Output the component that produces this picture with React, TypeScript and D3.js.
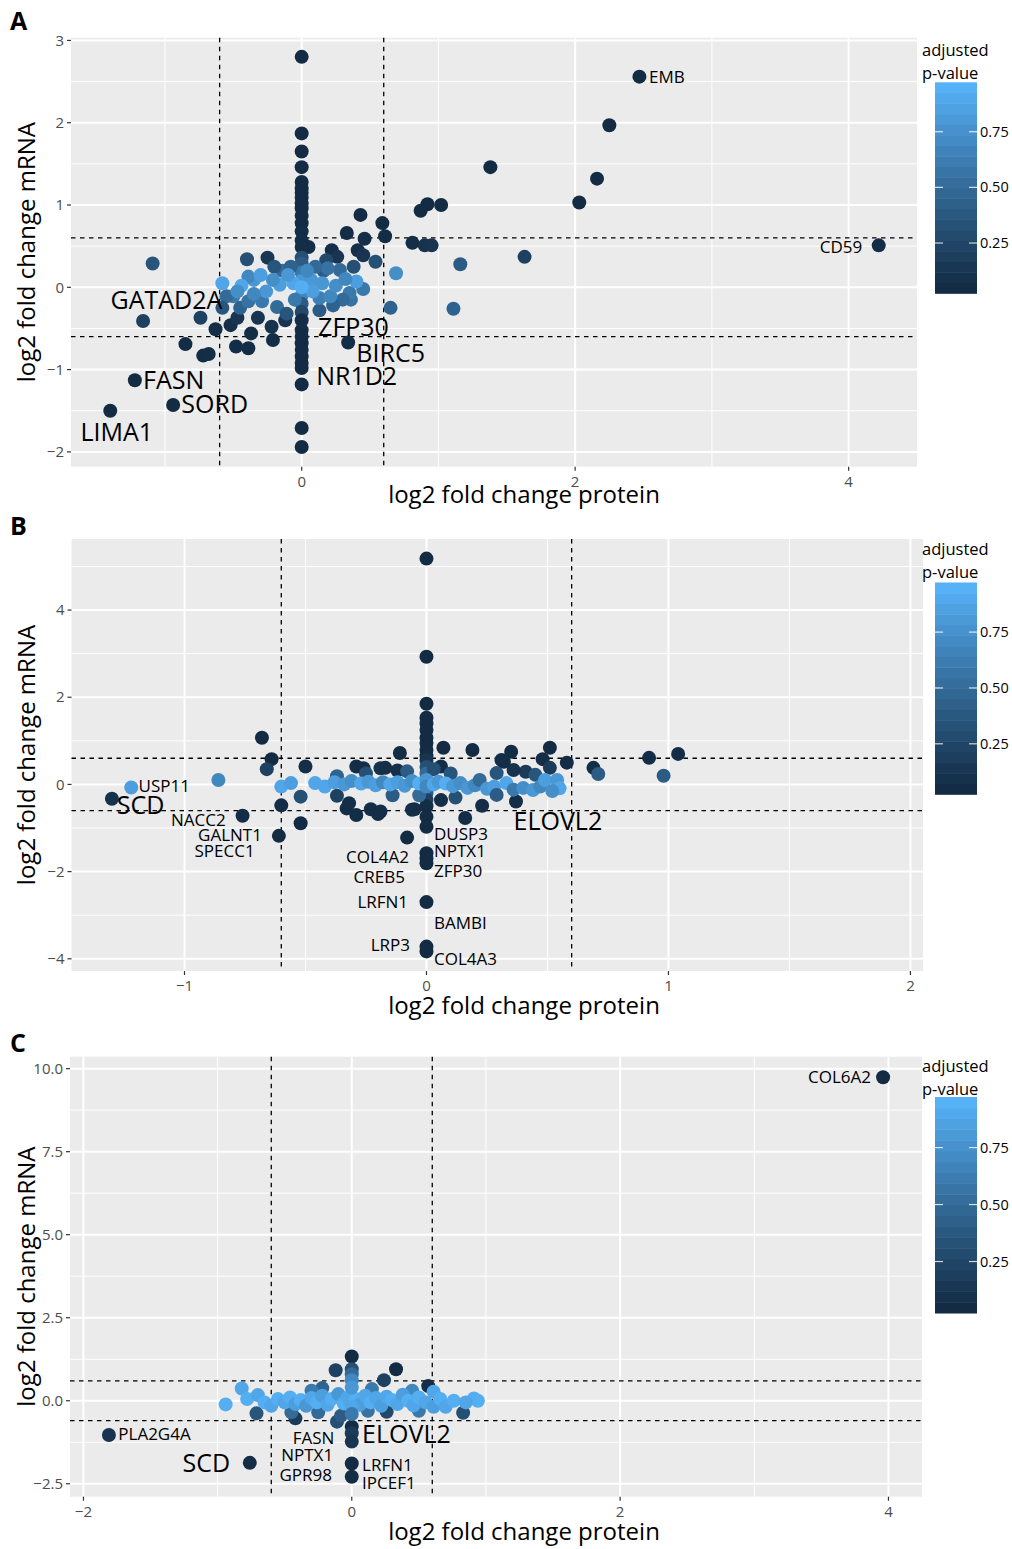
import React, { useEffect } from 'react';
import * as d3 from 'd3';

// [log2FC protein, log2FC mRNA, adjusted p-value]
type Pt = [number, number, number];
// [gene, x, y] in data units (text centre-left / centre-right)
type Lab = [string, number, number];

const pointsA: Pt[] = [
  [0, 2.80, 0.02], [2.47, 2.56, 0.02], [2.25, 1.97, 0.02], [2.16, 1.32, 0.03], [1.38, 1.46, 0.02],
  [2.03, 1.03, 0.03], [1.02, 1.00, 0.03], [0.92, 1.01, 0.03], [0.87, 0.93, 0.03], [1.63, 0.37, 0.2],
  [1.16, 0.28, 0.4], [1.11, -0.26, 0.45], [0.69, 0.17, 0.75], [0.65, -0.25, 0.45], [0.81, 0.54, 0.05],
  [0.90, 0.51, 0.08], [0.95, 0.51, 0.1], [4.22, 0.51, 0.04], [0.59, 0.78, 0.03], [0.61, 0.62, 0.04],
  [0.43, 0.88, 0.03], [0.33, 0.66, 0.04], [0.46, 0.59, 0.05], [0.41, 0.45, 0.06], [0.22, 0.45, 0.05],
  [0.26, 0.37, 0.1], [0.05, 0.49, 0.05], [0.45, 0.39, 0.1], [0.54, 0.31, 0.3], [0.18, 0.33, 0.25],
  [0, 1.87, 0.03], [0, 1.65, 0.03], [0, 1.46, 0.03], [0, 1.28, 0.03], [0, 1.20, 0.03], [0, 1.15, 0.03],
  [0, 1.09, 0.03], [0, 1.02, 0.03], [0, 0.96, 0.03], [0, 0.87, 0.03], [0, 0.78, 0.03], [0, 0.68, 0.04],
  [0, 0.57, 0.04], [0, 0.49, 0.05], [0, 0.36, 0.3], [0, 0.29, 0.4], [0, 0.18, 0.6], [0, 0.08, 0.8],
  [0, -0.10, 0.7], [0, -0.20, 0.4], [0, -0.30, 0.25], [0, -0.40, 0.05], [0, -0.52, 0.04],
  [0, -0.60, 0.03], [0, -0.68, 0.03], [0, -0.76, 0.03], [0, -0.84, 0.03], [0, -0.92, 0.03],
  [0, -0.98, 0.03], [0, -1.18, 0.03], [0, -1.71, 0.03], [0, -1.94, 0.03],
  [-1.09, 0.29, 0.35], [-1.16, -0.41, 0.2], [-1.22, -1.13, 0.03], [-1.40, -1.50, 0.03], [-0.94, -1.43, 0.03],
  [-0.85, -0.69, 0.04], [-0.72, -0.83, 0.04], [-0.68, -0.81, 0.05], [-0.74, -0.37, 0.2], [-0.63, -0.51, 0.05],
  [-0.40, 0.34, 0.3], [-0.25, 0.36, 0.12], [-0.48, -0.72, 0.04], [-0.39, -0.74, 0.04],
  [-0.37, -0.56, 0.05], [-0.52, -0.46, 0.06], [-0.47, -0.37, 0.1], [-0.32, -0.37, 0.1], [-0.22, -0.48, 0.08],
  [-0.21, -0.64, 0.05], [-0.12, -0.40, 0.1], [0.34, -0.67, 0.04],
  [-0.14, 0.20, 0.5], [0.16, 0.20, 0.4], [0.38, 0.25, 0.3], [-0.08, 0.25, 0.45], [-0.20, 0.25, 0.35],
  [0.36, -0.15, 0.55], [0.45, -0.02, 0.6],
  [0.35, -0.07, 0.6], [0.30, -0.15, 0.5], [0.23, -0.22, 0.45], [0.13, -0.28, 0.4],
  [0.28, 0.21, 0.5], [0.19, 0.23, 0.55], [0.10, 0.25, 0.5], [-0.50, -0.11, 0.6], [-0.55, -0.11, 0.5],
  [-0.58, -0.25, 0.35], [-0.45, -0.25, 0.45], [-0.39, -0.17, 0.55], [-0.29, -0.17, 0.6], [-0.18, -0.24, 0.5],
  [-0.11, -0.32, 0.35], [0.13, -0.13, 0.65], [0.21, -0.11, 0.7],
  [0.40, 0.07, 0.85], [0.07, 0.09, 0.8], [-0.06, 0.05, 0.9], [-0.16, 0.03, 0.85], [-0.21, 0.09, 0.75],
  [-0.35, 0.09, 0.8], [-0.39, 0.13, 0.7], [-0.30, 0.15, 0.85], [-0.44, 0.02, 0.9], [-0.26, -0.05, 0.8],
  [-0.10, 0.15, 0.8], [0.04, 0.20, 0.7], [0.15, 0.05, 0.8], [0.25, 0.02, 0.75], [0.32, 0.10, 0.7],
  [-0.47, -0.05, 0.75], [-0.35, -0.08, 0.7], [-0.05, -0.15, 0.6], [0.08, -0.05, 0.85], [0, 0, 0.95],
  [-0.58, 0.05, 0.9],
];

const labelsA: Lab[] = [
  ['EMB', 2.54, 2.56], ['CD59', 4.10, 0.49], ['GATAD2A', -0.58, -0.16], ['ZFP30', 0.12, -0.48],
  ['BIRC5', 0.40, -0.80], ['NR1D2', 0.106, -1.08], ['FASN', -1.16, -1.13], ['SORD', -0.88, -1.42],
  ['LIMA1', -1.086, -1.76],
];
const bigA = ['GATAD2A', 'ZFP30', 'BIRC5', 'NR1D2', 'FASN', 'SORD', 'LIMA1'];
const endA = ['CD59', 'GATAD2A', 'LIMA1'];

const pointsB: Pt[] = [
  [0, 5.18, 0.02], [0, 2.93, 0.02], [0, 1.85, 0.02], [0, 1.53, 0.02], [0, 1.40, 0.03], [0, 1.25, 0.03],
  [0, 1.07, 0.03], [0, 0.95, 0.03], [0, 0.79, 0.03], [0, 0.65, 0.04], [0, 0.56, 0.1], [0, 0.40, 0.3],
  [0, 0.25, 0.5], [0, -0.20, 0.4], [0, -0.35, 0.2], [0, -0.50, 0.05], [0, -0.74, 0.03],
  [0, -0.97, 0.03], [0, -1.58, 0.03], [0, -1.70, 0.03], [0, -1.81, 0.03], [0, -2.70, 0.03], [0, -3.72, 0.03],
  [0, -3.83, 0.03],
  [-0.68, 1.07, 0.03], [-0.64, 0.58, 0.03], [-0.50, 0.41, 0.05], [-0.11, 0.72, 0.03], [0.07, 0.84, 0.03],
  [0.19, 0.79, 0.03], [-1.30, -0.33, 0.08], [-1.22, -0.07, 0.85], [-0.86, 0.10, 0.7], [-0.76, -0.72, 0.04],
  [-0.66, 0.35, 0.2], [-0.61, -1.18, 0.03], [-0.60, -0.48, 0.04], [-0.52, -0.28, 0.3],
  [-0.52, -0.89, 0.03], [-0.37, 0.19, 0.45], [-0.37, -0.26, 0.2], [-0.33, -0.55, 0.05],
  [-0.32, -0.43, 0.05], [-0.29, -0.70, 0.04], [-0.29, 0.41, 0.05], [-0.26, 0.37, 0.05], [-0.23, -0.57, 0.05],
  [-0.20, -0.68, 0.04], [-0.19, 0.37, 0.08], [-0.12, 0.32, 0.06], [-0.08, -1.22, 0.03], [-0.05, -0.57, 0.04],
  [-0.19, -0.62, 0.05], [-0.17, 0.38, 0.06], [-0.06, -0.58, 0.05],
  [0.06, 0.41, 0.05], [0.06, -0.36, 0.05], [0.16, -0.77, 0.04], [0.23, -0.49, 0.05], [0.29, 0.26, 0.35],
  [0.31, 0.56, 0.04], [0.35, 0.75, 0.03], [0.37, -0.39, 0.05], [0.41, 0.29, 0.15], [0.36, 0.33, 0.08],
  [0.32, 0.52, 0.05], [0.48, 0.58, 0.05], [0.51, 0.84, 0.03], [0.51, 0.38, 0.15], [0.58, 0.50, 0.04],
  [0.69, 0.38, 0.05], [0.71, 0.24, 0.4], [0.92, 0.61, 0.04], [0.98, 0.20, 0.4], [1.04, 0.70, 0.04],
  [-0.14, -0.25, 0.4], [-0.08, 0.30, 0.4], [0.10, 0.25, 0.35], [0.12, -0.30, 0.3], [-0.25, 0.25, 0.3],
  [0.45, 0.22, 0.35], [-0.03, -0.25, 0.5], [0.03, 0.35, 0.3],
  [-0.60, -0.05, 0.9], [-0.56, 0.03, 0.85], [-0.46, 0.03, 0.9], [-0.42, -0.05, 0.9],
  [-0.38, 0.05, 0.85], [-0.34, 0.0, 0.8], [-0.31, 0.08, 0.75], [-0.27, 0.02, 0.9], [-0.24, 0.06, 0.8],
  [-0.21, -0.02, 0.85], [-0.18, 0.05, 0.7], [-0.15, 0.0, 0.9], [-0.12, 0.05, 0.85], [-0.09, -0.03, 0.8],
  [-0.06, 0.08, 0.75], [-0.03, 0.02, 0.95], [0, 0.10, 0.8], [0, -0.05, 0.7], [0.03, 0.0, 0.9],
  [0.05, 0.06, 0.8], [0.08, 0.02, 0.95], [0.11, -0.04, 0.8], [0.14, 0.03, 0.75], [0.17, -0.08, 0.8],
  [0.20, -0.02, 0.7], [0.22, 0.10, 0.5], [0.25, -0.10, 0.8], [0.28, -0.05, 0.85], [0.29, -0.24, 0.4],
  [0.33, 0.03, 0.9], [0.36, -0.12, 0.6], [0.40, -0.08, 0.75], [0.44, -0.13, 0.8], [0.47, -0.05, 0.7],
  [0.49, 0.10, 0.85], [0.54, 0.10, 0.8], [0.55, -0.09, 0.9], [0.52, -0.15, 0.75],
];

const labelsB: Lab[] = [
  ['USP11', -1.19, -0.03], ['SCD', -1.28, -0.47], ['NACC2', -0.83, -0.81], ['GALNT1', -0.68, -1.16],
  ['SPECC1', -0.71, -1.53], ['COL4A2', -0.072, -1.66], ['CREB5', -0.089, -2.12], ['LRFN1', -0.076, -2.69],
  ['LRP3', -0.068, -3.68], ['DUSP3', 0.031, -1.14], ['NPTX1', 0.031, -1.53], ['ZFP30', 0.031, -1.98],
  ['BAMBI', 0.031, -3.17], ['COL4A3', 0.031, -4.0], ['ELOVL2', 0.36, -0.84],
];
const bigB = ['SCD', 'ELOVL2'];
const endB = ['NACC2', 'GALNT1', 'SPECC1', 'COL4A2', 'CREB5', 'LRFN1', 'LRP3'];

const pointsC: Pt[] = [
  [3.96, 9.74, 0.03], [-1.81, -1.03, 0.1], [-0.76, -1.87, 0.05], [0, 1.33, 0.03], [0, 0.95, 0.3],
  [0, 0.80, 0.5], [0, -0.78, 0.04], [0, -0.98, 0.15], [0, -1.23, 0.1], [0, -1.89, 0.03], [0, -2.29, 0.04],
  [-0.12, 0.92, 0.2], [0.33, 0.95, 0.03], [0.24, 0.62, 0.2], [0.57, 0.44, 0.05], [0.26, -0.33, 0.25],
  [0.83, -0.36, 0.3], [-0.71, -0.38, 0.35], [-0.42, -0.53, 0.15], [-0.11, -0.63, 0.3], [-0.22, 0.38, 0.45],
  [-0.45, -0.35, 0.5], [-0.25, -0.35, 0.5], [0.12, -0.3, 0.55], [-0.3, 0.3, 0.6], [0.15, 0.35, 0.6],
  [0.45, 0.3, 0.7], [-0.08, -0.45, 0.4], [0.5, -0.3, 0.6], [0, 0.62, 0.7],
  [-0.94, -0.11, 0.95], [-0.82, 0.37, 0.9], [-0.78, 0.05, 0.95], [-0.70, 0.17, 0.9], [-0.65, -0.05, 0.95],
  [-0.60, -0.15, 0.9], [-0.55, 0.05, 0.95], [-0.50, -0.05, 0.9], [-0.46, 0.10, 0.95], [-0.42, -0.10, 0.85],
  [-0.38, 0.02, 0.95], [-0.34, -0.15, 0.8], [-0.30, 0.08, 0.9], [-0.26, -0.05, 0.95], [-0.22, 0.15, 0.85],
  [-0.18, -0.12, 0.9], [-0.15, 0.05, 0.95], [-0.10, 0.20, 0.8], [-0.06, -0.08, 0.95], [-0.03, 0.10, 0.9],
  [0.03, 0.05, 0.95], [0.06, -0.12, 0.85], [0.10, 0.15, 0.9], [0.14, -0.05, 0.95], [0.18, 0.08, 0.9],
  [0.22, -0.15, 0.85], [0.26, 0.12, 0.9], [0.30, 0.02, 0.95], [0.34, -0.1, 0.9], [0.38, 0.18, 0.85],
  [0.42, 0.0, 0.95], [0.46, -0.14, 0.9], [0.50, 0.10, 0.95], [0.55, -0.05, 0.9], [0.61, 0.27, 0.9],
  [0.61, -0.18, 0.85], [0.66, 0.05, 0.95], [0.70, -0.18, 0.9], [0.76, 0.0, 0.95], [0.91, 0.07, 0.95],
  [0.94, 0.0, 0.95], [0.85, -0.05, 0.9], [0, 0.4, 0.8], [0, -0.2, 0.9], [0, -0.4, 0.6],
];

const labelsC: Lab[] = [
  ['COL6A2', 3.87, 9.75], ['PLA2G4A', -1.74, -1.0], ['SCD', -0.907, -1.88], ['FASN', -0.13, -1.12],
  ['NPTX1', -0.139, -1.64], ['GPR98', -0.147, -2.24], ['ELOVL2', 0.077, -1.0], ['LRFN1', 0.077, -1.94],
  ['IPCEF1', 0.077, -2.48],
];
const bigC = ['SCD', 'ELOVL2'];
const endC = ['COL6A2', 'SCD', 'FASN', 'NPTX1', 'GPR98'];

const xTicksA = [0, 2, 4];
const yTicksA = [-2, -1, 0, 1, 2, 3];
const xTicksB = [-1, 0, 1, 2];
const yTicksB = [-4, -2, 0, 2, 4];
const xTicksC = [-2, 0, 2, 4];
const yTicksC = [-2.5, 0, 2.5, 5, 7.5, 10];
const legendTicks = [0.25, 0.5, 0.75];
const pRange: [number, number] = [0.024, 0.972];
const cutoff = 0.6;

const FONT = "'Open Sans', 'DejaVu Sans', sans-serif";
const colour = d3.scaleLinear<string>()
  .domain(pRange)
  .range(['#132B43', '#56B1F7'])
  .interpolate(d3.interpolateLab)
  .clamp(true);

const fmtInt = d3.format('d');
const fmtDec = d3.format('.1f');

function minors(ticks: number[], dom: [number, number]) {
  const step = ticks[1] - ticks[0];
  const out: number[] = [];
  for (let v = ticks[0] - step / 2; v <= dom[1]; v += step) {
    if (v >= dom[0]) out.push(v);
  }
  return out;
}

function Panel({ cfg }: { cfg: any }) {
  const x = d3.scaleLinear().domain(cfg.xDomain).range([cfg.left, cfg.right]);
  const y = d3.scaleLinear().domain(cfg.yDomain).range([cfg.bottom, cfg.top]);
  const xMinor = minors(cfg.xTicks, cfg.xDomain);
  const yMinor = minors(cfg.yTicks, cfg.yDomain);
  const w = cfg.right - cfg.left;
  const h = cfg.bottom - cfg.top;

  const bar = d3.scaleLinear().domain(pRange).range([cfg.barBottom, cfg.barTop]);
  const bins = d3.range(20).map(i => pRange[0] + (i / 19) * (pRange[1] - pRange[0]));
  const binH = (cfg.barBottom - cfg.barTop) / 20;
  const barX = 935;
  const barW = 42;

  return (
    <g fontFamily={FONT}>
      <text x={10} y={cfg.letterY} dy="0.35em" fontSize={25} fontWeight="bold" fill="#000">{cfg.letter}</text>
      <rect x={cfg.left} y={cfg.top} width={w} height={h} fill="#EBEBEB" />
      {xMinor.map(v => (
        <line key={'xm' + v} x1={x(v)} x2={x(v)} y1={cfg.top} y2={cfg.bottom} stroke="#fff" strokeWidth={1} />
      ))}
      {yMinor.map(v => (
        <line key={'ym' + v} x1={cfg.left} x2={cfg.right} y1={y(v)} y2={y(v)} stroke="#fff" strokeWidth={1} />
      ))}
      {cfg.xTicks.map((v: number) => (
        <line key={'x' + v} x1={x(v)} x2={x(v)} y1={cfg.top} y2={cfg.bottom} stroke="#fff" strokeWidth={2} />
      ))}
      {cfg.yTicks.map((v: number) => (
        <line key={'y' + v} x1={cfg.left} x2={cfg.right} y1={y(v)} y2={y(v)} stroke="#fff" strokeWidth={2} />
      ))}
      {[-cutoff, cutoff].map(v => (
        <g key={'c' + v}>
          <line x1={x(v)} x2={x(v)} y1={cfg.top} y2={cfg.bottom} stroke="#000" strokeWidth={1.3} strokeDasharray="4.5,4.5" />
          <line x1={cfg.left} x2={cfg.right} y1={y(v)} y2={y(v)} stroke="#000" strokeWidth={1.3} strokeDasharray="4.5,4.5" />
        </g>
      ))}
      {cfg.points.map((d: Pt, i: number) => (
        <circle key={'p' + i} cx={x(d[0])} cy={y(d[1])} r={7} fill={colour(d[2])} />
      ))}
      {cfg.labels.map((d: Lab) => (
        <text key={'l' + d[0]} x={x(d[1])} y={y(d[2])} dy="0.35em"
          fontSize={cfg.big.includes(d[0]) ? 25 : 17}
          textAnchor={cfg.end.includes(d[0]) ? 'end' : 'start'} fill="#000">{d[0]}</text>
      ))}
      {/* axes */}
      {cfg.xTicks.map((v: number) => (
        <g key={'xt' + v}>
          <line x1={x(v)} x2={x(v)} y1={cfg.bottom} y2={cfg.bottom + 4} stroke="#333" strokeWidth={1.2} />
          <text x={x(v)} y={cfg.bottom + 15} dy="0.35em" textAnchor="middle" fontSize={15} fill="#4d4d4d">{cfg.xFmt(v)}</text>
        </g>
      ))}
      {cfg.yTicks.map((v: number) => (
        <g key={'yt' + v}>
          <line x1={cfg.left - 4} x2={cfg.left} y1={y(v)} y2={y(v)} stroke="#333" strokeWidth={1.2} />
          <text x={cfg.left - 7} y={y(v)} dy="0.35em" textAnchor="end" fontSize={15} fill="#4d4d4d">{cfg.yFmt(v)}</text>
        </g>
      ))}
      <text x={524} y={cfg.xTitleY} dy="0.35em" textAnchor="middle" fontSize={24} fill="#000">log2 fold change protein</text>
      <text transform={`translate(27,${(cfg.top + cfg.bottom) / 2}) rotate(-90)`} dy="0.35em" textAnchor="middle" fontSize={24} fill="#000">log2 fold change mRNA</text>
      {/* legend */}
      <text x={922} y={cfg.legendY} dy="0.35em" fontSize={16.5} fill="#000">adjusted</text>
      <text x={922} y={cfg.legendY + 23} dy="0.35em" fontSize={16.5} fill="#000">p-value</text>
      {bins.map((b, i) => (
        <rect key={'b' + i} x={barX} y={cfg.barBottom - (i + 1) * binH} width={barW} height={binH + 0.5} fill={colour(b)} />
      ))}
      {legendTicks.map(t => (
        <g key={'lt' + t}>
          <line x1={barX} x2={barX + 8} y1={bar(t)} y2={bar(t)} stroke="#fff" strokeOpacity={0.8} strokeWidth={1.2} />
          <line x1={barX + barW - 8} x2={barX + barW} y1={bar(t)} y2={bar(t)} stroke="#fff" strokeOpacity={0.8} strokeWidth={1.2} />
          <text x={barX + barW + 3} y={bar(t)} dy="0.35em" fontSize={14.5} fill="#000">{d3.format('.2f')(t)}</text>
        </g>
      ))}
    </g>
  );
}

const panels = [
  {
    letter: 'A', letterY: 21, left: 71, right: 917, top: 37.7, bottom: 466.7,
    xDomain: [-1.687, 4.50], yDomain: [-2.18, 3.033], xTicks: xTicksA, yTicks: yTicksA,
    xFmt: fmtInt, yFmt: fmtInt, points: pointsA, labels: labelsA, big: bigA, end: endA,
    xTitleY: 495, legendY: 50, barTop: 82.3, barBottom: 293.3,
  },
  {
    letter: 'B', letterY: 526, left: 71.5, right: 923, top: 539, bottom: 971,
    xDomain: [-1.467, 2.052], yDomain: [-4.28, 5.63], xTicks: xTicksB, yTicks: yTicksB,
    xFmt: fmtInt, yFmt: fmtInt, points: pointsB, labels: labelsB, big: bigB, end: endB,
    xTitleY: 1006, legendY: 549, barTop: 582.5, barBottom: 794.3,
  },
  {
    letter: 'C', letterY: 1043, left: 70, right: 922, top: 1056.7, bottom: 1496.7,
    xDomain: [-2.10, 4.25], yDomain: [-2.89, 10.36], xTicks: xTicksC, yTicks: yTicksC,
    xFmt: fmtInt, yFmt: fmtDec, points: pointsC, labels: labelsC, big: bigC, end: endC,
    xTitleY: 1532, legendY: 1066, barTop: 1097, barBottom: 1313,
  },
];

export default function App() {
  useEffect(() => {
    document.body.style.margin = '0';
  }, []);
  return (
    <svg width={1012} height={1549} style={{ display: 'block', background: '#fff' }}>
      {panels.map(p => <Panel key={p.letter} cfg={p} />)}
    </svg>
  );
}
